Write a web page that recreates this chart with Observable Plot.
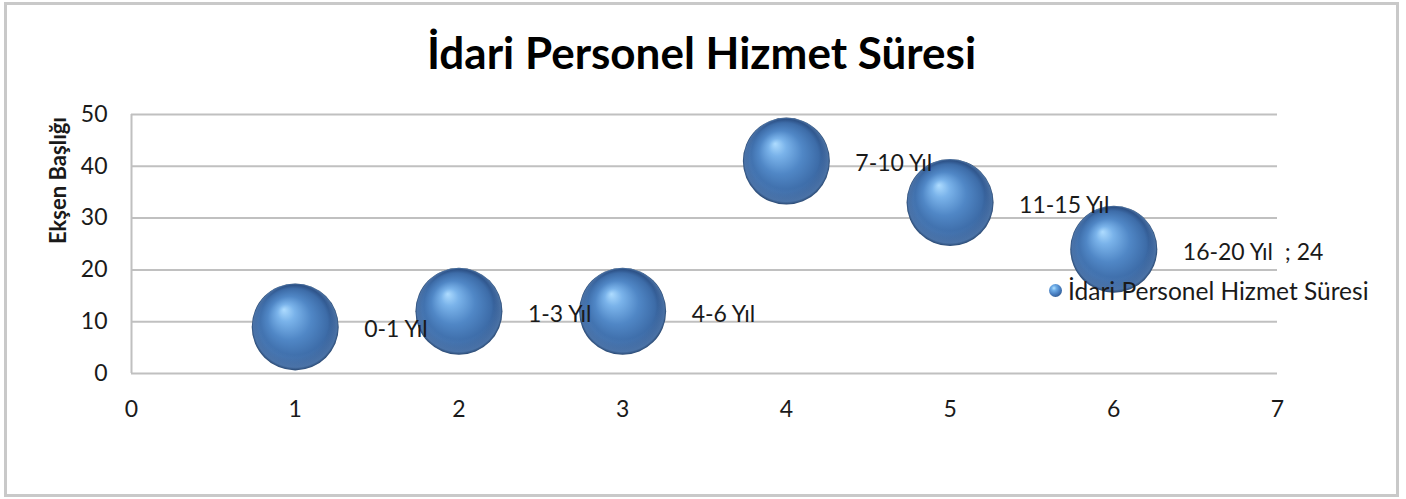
<!DOCTYPE html>
<html>
<head>
<meta charset="utf-8">
<script src="https://cdn.jsdelivr.net/npm/d3@7"></script>
<script src="https://cdn.jsdelivr.net/npm/@observablehq/plot@0.6"></script>
<style>
  html, body { margin: 0; padding: 0; background: #fff; }
  #wrap { position: relative; width: 1406px; height: 499px; overflow: hidden; font-family: Lato, "Open Sans", sans-serif; }
  #border { position: absolute; left: 4px; top: 2px; width: 1395px; height: 495px; box-sizing: border-box; border: 3px solid #c9c9c9; }
  #chart { position: absolute; left: 0; top: 0; }
  #legend { position: absolute; left: 1049px; top: 276px; font-size: 24.5px; color: #1a1a1a; white-space: nowrap; display: flex; align-items: center; }
  #legend .sw { width: 13px; height: 13px; border-radius: 50%; margin-right: 6px;
    background: radial-gradient(circle at 38% 32%, #b5e2ff 0%, #6faee8 20%, #4a80c2 50%, #2f5a92 80%, #1b3253 100%); }
</style>
</head>
<body>
<div id="wrap">
  <div id="border"></div>
  <div id="chart"></div>
  <div id="legend"><span class="sw"></span><span id="legendText"></span></div>
</div>
<script>
const titleText = "İdari Personel Hizmet Süresi";
const seriesName = "İdari Personel Hizmet Süresi";
const yAxisTitle = "Ekşen Başlığı";
const xValues = [1, 2, 3, 4, 5, 6];
const yValues = [9, 12, 12, 41, 33, 24];
const pointLabels = ["0-1 Yıl", "1-3 Yıl", "4-6 Yıl", "7-10 Yıl", "11-15 Yıl", "16-20 Yıl  ; 24"];
const xTicks = [0, 1, 2, 3, 4, 5, 6, 7];
const yTicks = [0, 10, 20, 30, 40, 50];

const data = xValues.map((x, i) => ({ x, y: yValues[i], label: pointLabels[i] }));

const plot = Plot.plot({
  width: 1406,
  height: 499,
  marginLeft: 131,
  marginRight: 129,
  marginTop: 114,
  marginBottom: 126,
  x: { domain: [0, 7], ticks: xTicks, tickFormat: d3.format("d") },
  y: { domain: [0, 50], ticks: yTicks, tickFormat: d3.format("d") },
  style: { fontFamily: "Lato, 'Open Sans', sans-serif", fontSize: "23px", color: "#1a1a1a", background: "transparent", overflow: "visible" },
  marks: [
    Plot.gridY(yTicks, { stroke: "#c0c0c0", strokeWidth: 2, strokeOpacity: 1 }),
    Plot.ruleX([0], { stroke: "#c0c0c0", strokeWidth: 2 }),
    Plot.axisY(yTicks, { tickSize: 0, tickPadding: 24, fontSize: 23, label: null, tickFormat: d3.format("d") }),
    Plot.axisX(xTicks, { tickSize: 0, tickPadding: 27, fontSize: 23, label: null, tickFormat: d3.format("d") }),
    Plot.text([yAxisTitle], { frameAnchor: "left", dx: -73, rotate: -90, fontWeight: "bold", fontSize: 22, fill: "#1a1a1a" }),
    Plot.text([titleText], { frameAnchor: "top", dx: -3, dy: -46, lineAnchor: "bottom", fontWeight: "bold", fontSize: 44, fill: "#000" }),
    Plot.dot(data, { x: "x", y: "y", r: 43.5, fill: "url(#sphere)", stroke: "none" }),
    Plot.dot(data, { x: "x", y: "y", r: 43.5, fill: "url(#rim)", stroke: "none" }),
    Plot.text(data, { x: "x", y: "y", text: "label", dx: 69, dy: 3, textAnchor: "start", fontSize: 23, fill: "#1a1a1a" })
  ]
});

const svg = d3.select(plot);
svg.insert("defs", ":first-child").html(`
  <radialGradient id="sphere" cx="50%" cy="50%" r="50%" fx="37%" fy="30%">
    <stop offset="0%" stop-color="#aedcff"/>
    <stop offset="20%" stop-color="#7ab3ea"/>
    <stop offset="50%" stop-color="#5087c6"/>
    <stop offset="80%" stop-color="#3d6ca8"/>
    <stop offset="94%" stop-color="#2c5085"/>
    <stop offset="100%" stop-color="#27466f"/>
  </radialGradient>
  <radialGradient id="rim" cx="50%" cy="50%" r="50%" fx="50%" fy="10%">
    <stop offset="80%" stop-color="#7aaae0" stop-opacity="0"/>
    <stop offset="96%" stop-color="#7aaae0" stop-opacity="0.4"/>
    <stop offset="100%" stop-color="#7aaae0" stop-opacity="0"/>
  </radialGradient>
`);
svg.selectAll("text").style("white-space", "pre");
document.getElementById("chart").appendChild(plot);
document.getElementById("legendText").textContent = seriesName;
</script>
</body>
</html>
